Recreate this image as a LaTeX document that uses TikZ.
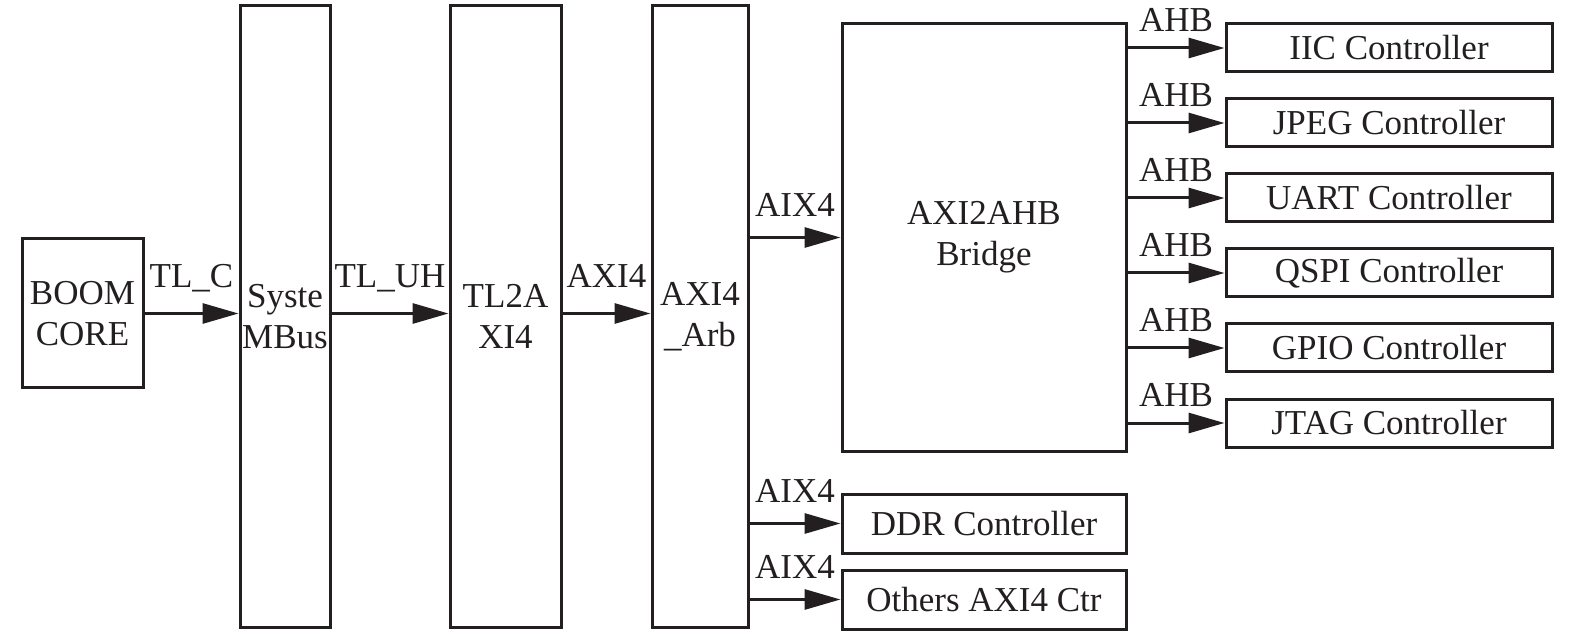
\documentclass[tikz,border=0pt]{standalone}
\usepackage{fontspec}
\setmainfont{Liberation Serif}
\usetikzlibrary{arrows.meta}
\usetikzlibrary{positioning}

\begin{document}
\begin{tikzpicture}[x=0.5pt,y=-0.5pt,
    blk/.style={draw=color_line,line width=1.5pt,inner sep=0.5pt,align=center,text=color_line,
                font=\fontsize{17.5pt}{20.5pt}\selectfont},
    bus/.style={draw=color_line,line width=1.5pt,-{Triangle[length=18pt,width=10pt]}},
    lbl/.style={anchor=base,inner sep=0pt,text=color_line,font=\fontsize{17.5pt}{20.5pt}\selectfont}]
    \definecolor{color_line}{rgb}{0.137,0.122,0.125}
    \useasboundingbox (0,0) rectangle (1575,636);

    \node[blk,minimum width=60.5pt,minimum height=74.5pt] (boom) at (82.5,313.5) {BOOM\\CORE};
    \node[blk,minimum width=45pt,minimum height=310.5pt] (sysbus) at (285,316.5) {Syste\\MBus};
    \node[blk,minimum width=55.5pt,minimum height=310.5pt] (tl2axi) at (505.5,316.5) {TL2A\\XI4};
    \node[blk,minimum width=48pt,minimum height=310.5pt] (arb) at (700,316.5) {AXI4\\\_Arb};
    \node[blk,minimum width=142pt,minimum height=213.5pt] (bridge) at (984,237.5) {AXI2AHB\\Bridge};
    \node[blk,minimum width=142pt,minimum height=29.5pt] (ddr) at (984,523.5) {DDR Controller};
    \node[blk,minimum width=142pt,minimum height=29.5pt] (others) at (984,599.5) {Others AXI4 Ctr};

    \draw[bus] (boom.east) -- node[lbl,yshift=13pt] {TL\_C} (boom.east -| sysbus.west);
    \draw[bus] (sysbus.east |- boom.east) -- node[lbl,yshift=13pt] {TL\_UH} (boom.east -| tl2axi.west);
    \draw[bus] (tl2axi.east |- boom.east) -- node[lbl,yshift=13pt] {AXI4} (boom.east -| arb.west);

    \draw[bus] (arb.east |- bridge.west) -- node[lbl,yshift=10.5pt] {AIX4} (bridge.west);
    \draw[bus] (arb.east |- ddr.west) -- node[lbl,yshift=10.5pt] {AIX4} (ddr.west);
    \draw[bus] (arb.east |- others.west) -- node[lbl,yshift=10.5pt] {AIX4} (others.west);

    \foreach \name/\txt [count=\i from 0] in {iic/IIC,jpeg/JPEG,uart/UART,qspi/QSPI,gpio/GPIO,jtag/JTAG}
    {
      \node[blk,minimum width=163pt,minimum height=24pt] (\name) at (1389,48+75*\i) {\txt\ Controller};
      \draw[bus] (bridge.east |- \name.west) -- node[lbl,yshift=8pt] {AHB} (\name.west);
    }

  \end{tikzpicture}
\end{document}
